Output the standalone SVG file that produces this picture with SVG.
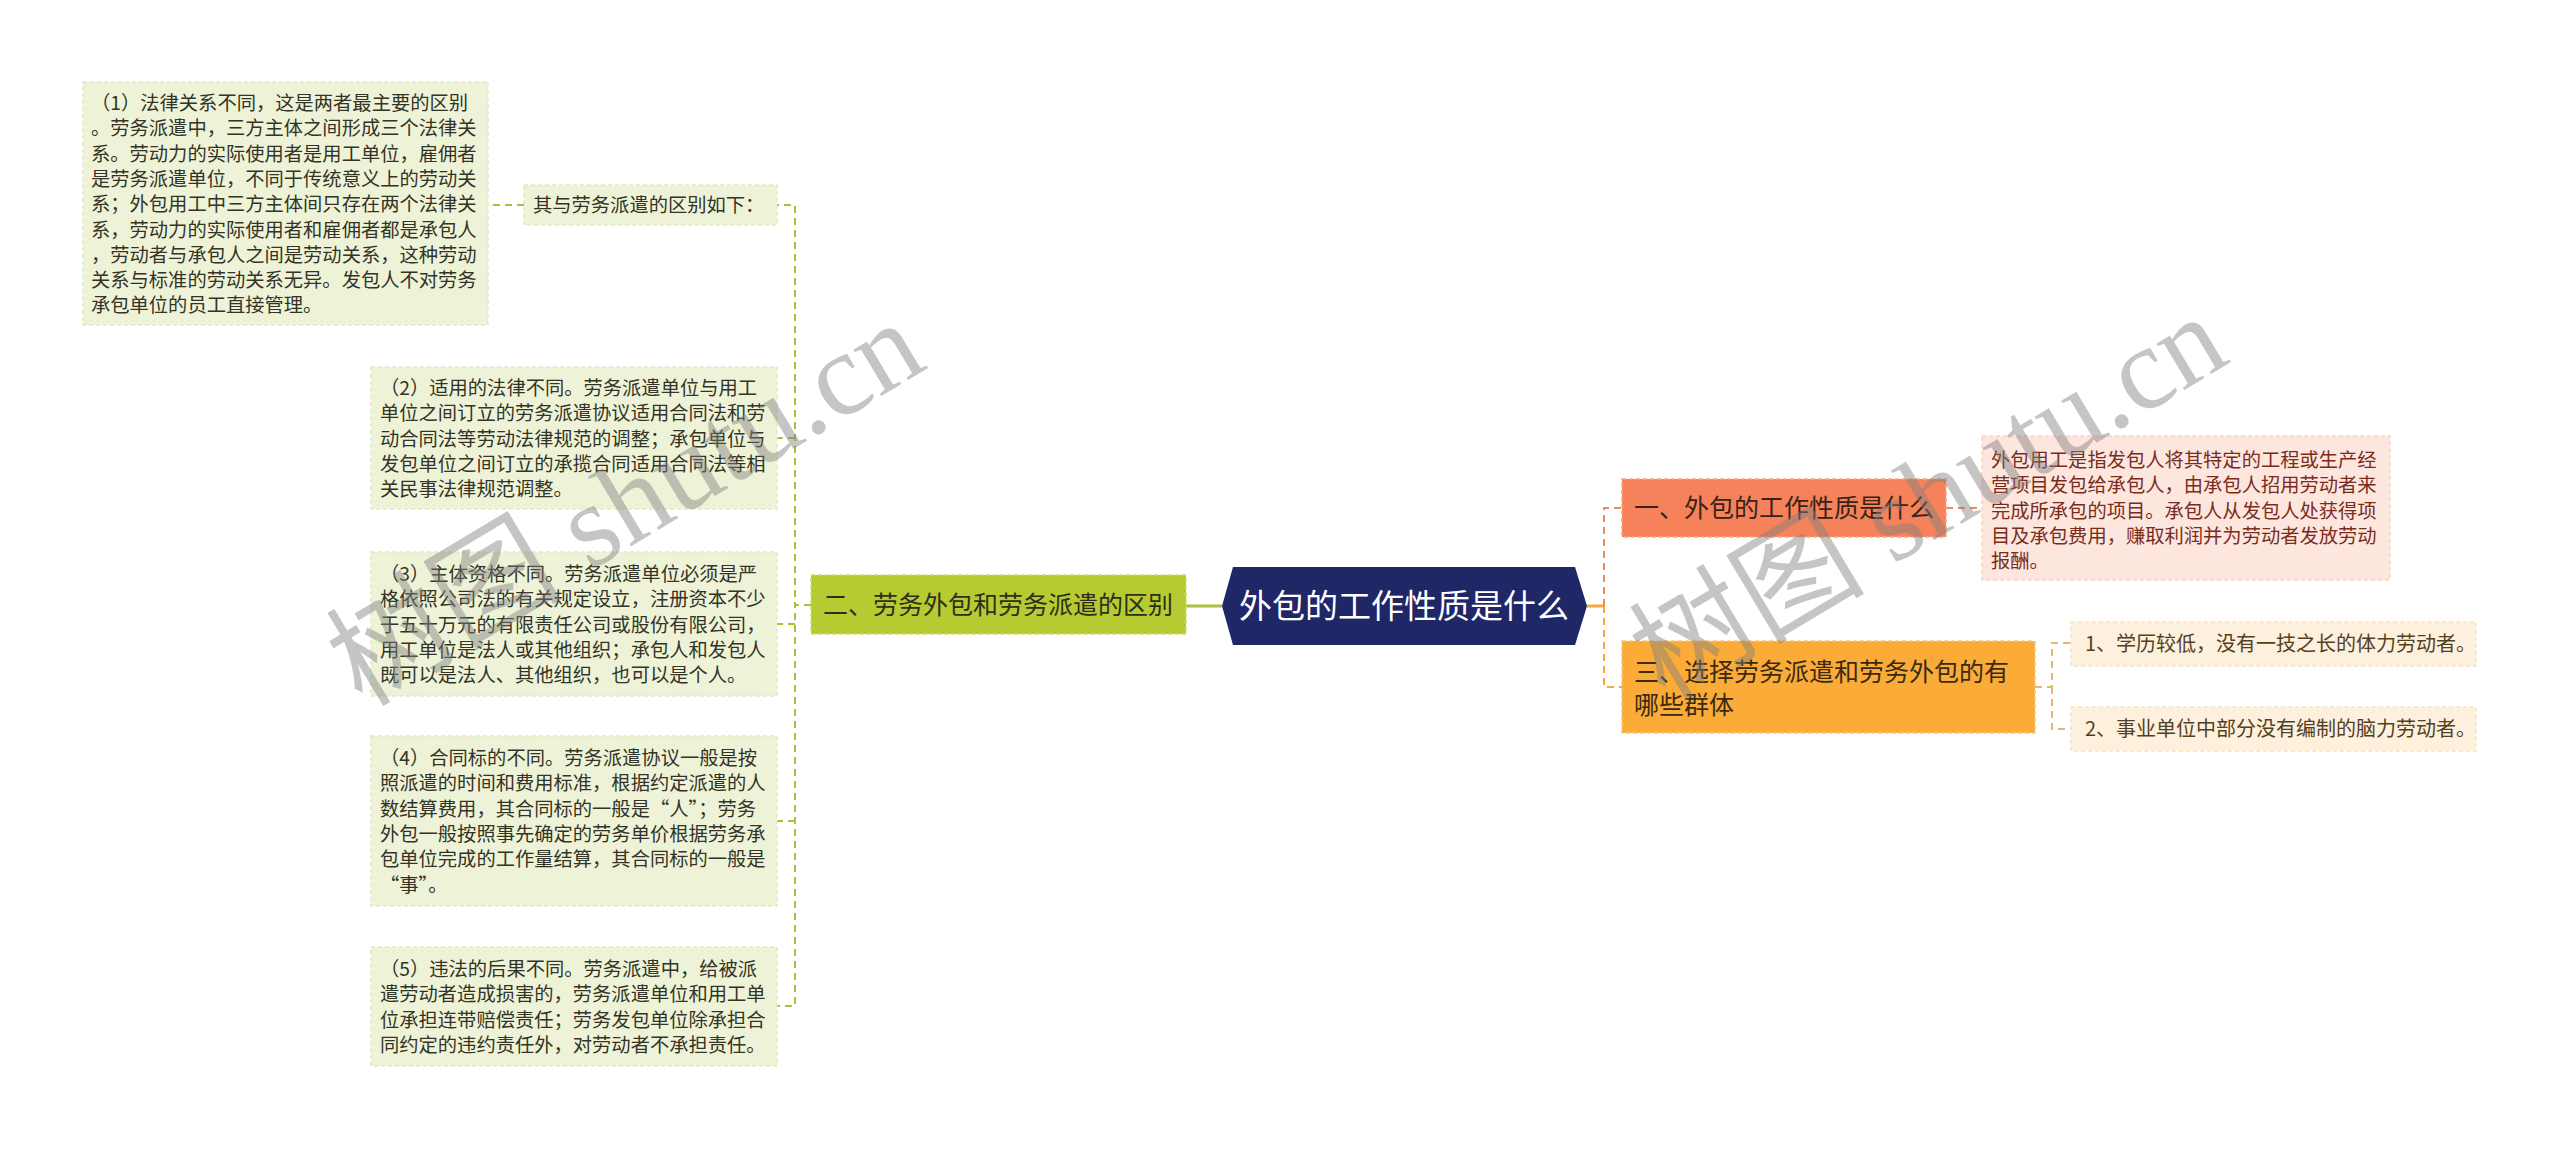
<svg xmlns="http://www.w3.org/2000/svg" width="2560" height="1150" viewBox="0 0 2560 1150">
<style>
text{font-family:"Noto Sans CJK SC","Liberation Sans",sans-serif;}
.lt{font-size:19.3px;fill:#333326;}
.lb{fill:#eef3d8;stroke:#e2e8c4;stroke-width:1.5;stroke-dasharray:4 3;}
.gl{fill:none;stroke:#a8c03a;stroke-width:2;stroke-dasharray:7 5;}
.ol{fill:none;stroke:#ec8a5c;stroke-width:2;stroke-dasharray:7 5;}
.yl{fill:none;stroke:#f3a93e;stroke-width:2;stroke-dasharray:7 5;}
.il{fill:none;stroke:#e6b474;stroke-width:2;stroke-dasharray:7 5;}
.wm{font-family:"Liberation Serif","Noto Sans CJK SC",serif;font-size:118px;fill:#808080;opacity:0.45;}
</style>
<rect width="2560" height="1150" fill="#ffffff"/>

<g id="connectors">
<path class="gl" d="M811,605 H795 V205 H777"/>
<path class="gl" d="M795,438 H777"/>
<path class="gl" d="M795,624 H777"/>
<path class="gl" d="M795,821 H777"/>
<path class="gl" d="M811,605 H795 V1006 H777"/>
<path class="gl" d="M524,205 H488"/>
<path d="M1186,606 H1222" stroke="#a8c03a" stroke-width="3" fill="none"/>
<path d="M1587,606 H1604" stroke="#f3a93e" stroke-width="3" fill="none"/>
<path class="ol" d="M1604,606 V508 H1622"/>
<path class="yl" d="M1604,606 V687 H1622"/>
<path class="ol" d="M1946,508 H1982"/>
<path class="il" d="M2035,687 H2052 V643 H2071"/>
<path class="il" d="M2052,687 V729 H2071"/>
</g>

<g id="center">
<polygon points="1222,606 1233,567 1575,567 1587,606 1575,645 1233,645" fill="#1f2767"/>
<text x="1404" y="618" font-size="33" fill="#ffffff" text-anchor="middle">外包的工作性质是什么</text>
</g>

<g id="branch2">
<rect x="811" y="575" width="375" height="59" fill="#b6ca31" stroke="#cfdc6e" stroke-width="1.5" stroke-dasharray="4 3"/>
<text x="823" y="614" font-size="25" fill="#2e2e1a">二、劳务外包和劳务派遣的区别</text>
</g>

<g id="intro">
<rect x="524" y="185" width="253" height="40" class="lb"/>
<text x="533" y="212" class="lt">其与劳务派遣的区别如下：</text>
</g>

<g id="item1">
<rect x="83" y="82" width="405" height="243" class="lb"/>
<text class="lt" x="91" y="110">
<tspan x="91">（1）法律关系不同，这是两者最主要的区别</tspan>
<tspan x="91" dy="25.3">。劳务派遣中，三方主体之间形成三个法律关</tspan>
<tspan x="91" dy="25.3">系。劳动力的实际使用者是用工单位，雇佣者</tspan>
<tspan x="91" dy="25.3">是劳务派遣单位，不同于传统意义上的劳动关</tspan>
<tspan x="91" dy="25.3">系；外包用工中三方主体间只存在两个法律关</tspan>
<tspan x="91" dy="25.3">系，劳动力的实际使用者和雇佣者都是承包人</tspan>
<tspan x="91" dy="25.3">，劳动者与承包人之间是劳动关系，这种劳动</tspan>
<tspan x="91" dy="25.3">关系与标准的劳动关系无异。发包人不对劳务</tspan>
<tspan x="91" dy="25.3">承包单位的员工直接管理。</tspan>
</text>
</g>

<g id="item2">
<rect x="371" y="367" width="406" height="142" class="lb"/>
<text class="lt" x="380" y="395">
<tspan x="380">（2）适用的法律不同。劳务派遣单位与用工</tspan>
<tspan x="380" dy="25.3">单位之间订立的劳务派遣协议适用合同法和劳</tspan>
<tspan x="380" dy="25.3">动合同法等劳动法律规范的调整；承包单位与</tspan>
<tspan x="380" dy="25.3">发包单位之间订立的承揽合同适用合同法等相</tspan>
<tspan x="380" dy="25.3">关民事法律规范调整。</tspan>
</text>
</g>

<g id="item3">
<rect x="371" y="552" width="406" height="144" class="lb"/>
<text class="lt" x="380" y="581">
<tspan x="380">（3）主体资格不同。劳务派遣单位必须是严</tspan>
<tspan x="380" dy="25.3">格依照公司法的有关规定设立，注册资本不少</tspan>
<tspan x="380" dy="25.3">于五十万元的有限责任公司或股份有限公司，</tspan>
<tspan x="380" dy="25.3">用工单位是法人或其他组织；承包人和发包人</tspan>
<tspan x="380" dy="25.3">既可以是法人、其他组织，也可以是个人。</tspan>
</text>
</g>

<g id="item4">
<rect x="371" y="736" width="406" height="170" class="lb"/>
<text class="lt" x="380" y="765">
<tspan x="380">（4）合同标的不同。劳务派遣协议一般是按</tspan>
<tspan x="380" dy="25.3">照派遣的时间和费用标准，根据约定派遣的人</tspan>
<tspan x="380" dy="25.3">数结算费用，其合同标的一般是“人”；劳务</tspan>
<tspan x="380" dy="25.3">外包一般按照事先确定的劳务单价根据劳务承</tspan>
<tspan x="380" dy="25.3">包单位完成的工作量结算，其合同标的一般是</tspan>
<tspan x="380" dy="25.3">“事”。</tspan>
</text>
</g>

<g id="item5">
<rect x="371" y="947" width="406" height="119" class="lb"/>
<text class="lt" x="380" y="976">
<tspan x="380">（5）违法的后果不同。劳务派遣中，给被派</tspan>
<tspan x="380" dy="25.3">遣劳动者造成损害的，劳务派遣单位和用工单</tspan>
<tspan x="380" dy="25.3">位承担连带赔偿责任；劳务发包单位除承担合</tspan>
<tspan x="380" dy="25.3">同约定的违约责任外，对劳动者不承担责任。</tspan>
</text>
</g>

<g id="branch1">
<rect x="1622" y="479" width="324" height="58" fill="#f5825a" stroke="#f8a482" stroke-width="1.5" stroke-dasharray="4 3"/>
<text x="1634" y="517" font-size="25" fill="#3a2216">一、外包的工作性质是什么</text>
</g>

<g id="desc">
<rect x="1982" y="436" width="408" height="144" fill="#fde6de" stroke="#f8d4c6" stroke-width="1.5" stroke-dasharray="4 3"/>
<text x="1991" y="467" font-size="19.3" fill="#7a2c1c">
<tspan x="1991">外包用工是指发包人将其特定的工程或生产经</tspan>
<tspan x="1991" dy="25.3">营项目发包给承包人，由承包人招用劳动者来</tspan>
<tspan x="1991" dy="25.3">完成所承包的项目。承包人从发包人处获得项</tspan>
<tspan x="1991" dy="25.3">目及承包费用，赚取利润并为劳动者发放劳动</tspan>
<tspan x="1991" dy="25.3">报酬。</tspan>
</text>
</g>

<g id="branch3">
<rect x="1622" y="641" width="413" height="92" fill="#fbab38" stroke="#f8c878" stroke-width="1.5" stroke-dasharray="4 3"/>
<text x="1634" y="681" font-size="25" fill="#3a2a10">
<tspan x="1634">三、选择劳务派遣和劳务外包的有</tspan>
<tspan x="1634" dy="33">哪些群体</tspan>
</text>
</g>

<g id="group1">
<rect x="2071" y="622" width="405" height="44" fill="#fdf0dc" stroke="#f6e4c6" stroke-width="1.5" stroke-dasharray="4 3"/>
<text x="2085" y="651" font-size="20" fill="#54401f">1、学历较低，没有一技之长的体力劳动者。</text>
</g>

<g id="group2">
<rect x="2071" y="707" width="405" height="44" fill="#fdf0dc" stroke="#f6e4c6" stroke-width="1.5" stroke-dasharray="4 3"/>
<text x="2085" y="736" font-size="20" fill="#54401f">2、事业单位中部分没有编制的脑力劳动者。</text>
</g>

<g id="watermark">
<text class="wm" transform="translate(362,708) rotate(-31)">树图 shutu.cn</text>
<text class="wm" transform="translate(1665,702) rotate(-31)">树图 shutu.cn</text>
</g>
</svg>
